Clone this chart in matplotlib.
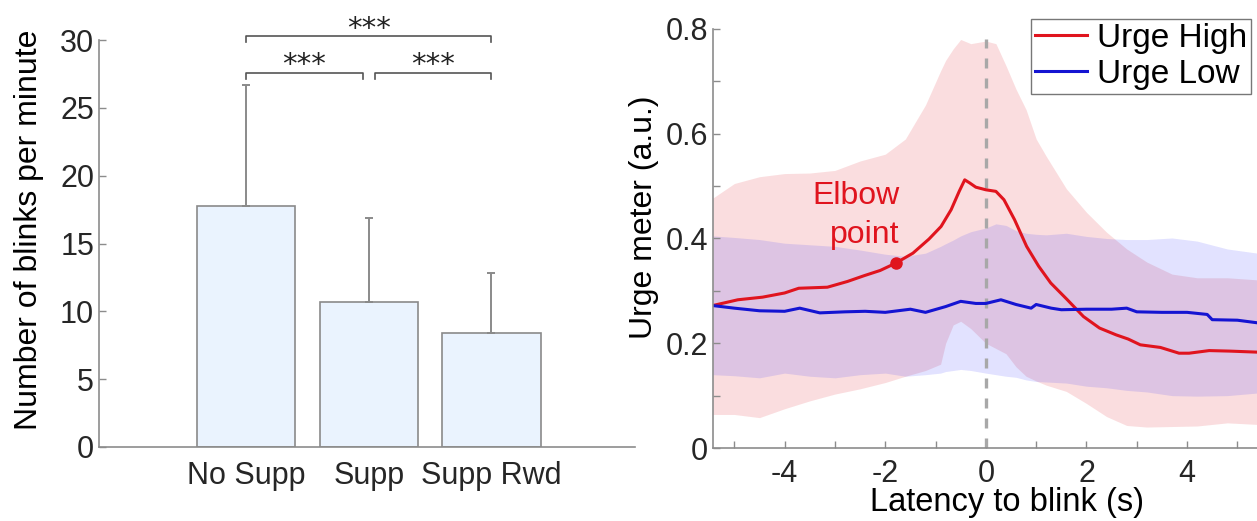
"""
Blink suppression figure: blink rate per condition (left) and
urge-meter time course around blinks (right).
"""

import matplotlib
matplotlib.use("Agg")
import matplotlib.pyplot as plt
from matplotlib.ticker import MultipleLocator, FuncFormatter

plt.rcParams["font.family"] = ["Liberation Sans", "DejaVu Sans"]
plt.rcParams["axes.unicode_minus"] = False

# ---- left panel: blinks per minute ----
conditions = ["No Supp", "Supp", "Supp Rwd"]
blink_mean = [17.8, 10.7, 8.4]
blink_sd = [8.9, 6.2, 4.4]
# (left bar, right bar, bracket height, stars)
comparisons = [(0, 1, 27.6, "***"), (1, 2, 27.6, "***"), (0, 2, 30.3, "***")]

# ---- right panel: urge meter ----
high_t = [-5.43, -4.93, -4.44, -4.0, -3.72, -3.15, -2.75, -2.42, -2.1, -1.79,
          -1.45, -1.13, -0.89, -0.69, -0.53, -0.42, -0.32, -0.2, 0.0, 0.2,
          0.36, 0.57, 0.81, 1.05, 1.29, 1.62, 1.94, 2.26, 2.59, 2.83, 3.07,
          3.47, 3.84, 4.04, 4.44, 4.85, 5.4]
high_mean = [0.272, 0.283, 0.288, 0.296, 0.305, 0.307, 0.318, 0.329, 0.339,
             0.353, 0.372, 0.399, 0.423, 0.455, 0.49, 0.512, 0.506, 0.498,
             0.493, 0.49, 0.474, 0.436, 0.385, 0.347, 0.315, 0.283, 0.251,
             0.229, 0.216, 0.208, 0.197, 0.192, 0.181, 0.181, 0.186, 0.185,
             0.183]

low_t = [-5.43, -5.0, -4.5, -4.0, -3.7, -3.3, -2.8, -2.4, -2.0, -1.5, -1.2,
         -0.8, -0.5, -0.2, 0.0, 0.3, 0.6, 0.9, 1.0, 1.3, 1.5, 2.0, 2.5, 2.8,
         3.0, 3.5, 4.0, 4.4, 4.5, 5.0, 5.4]
low_mean = [0.272, 0.267, 0.262, 0.261, 0.267, 0.258, 0.26, 0.261, 0.259,
            0.265, 0.259, 0.27, 0.28, 0.276, 0.276, 0.283, 0.274, 0.267,
            0.274, 0.267, 0.264, 0.265, 0.265, 0.267, 0.26, 0.259, 0.259,
            0.255, 0.245, 0.244, 0.239]

band_t = [-5.43, -5.0, -4.5, -4.0, -3.5, -3.0, -2.5, -2.0, -1.6, -1.2, -0.9,
          -0.8, -0.65, -0.5, -0.3, 0.0, 0.2, 0.4, 0.6, 0.8, 1.0, 1.2, 1.6,
          2.0, 2.4, 2.8, 3.2, 3.7, 4.2, 4.8, 5.4]
high_upper = [0.477, 0.505, 0.518, 0.524, 0.525, 0.53, 0.548, 0.561, 0.59,
              0.655, 0.72, 0.74, 0.762, 0.78, 0.772, 0.777, 0.772, 0.73,
              0.685, 0.646, 0.59, 0.557, 0.495, 0.45, 0.412, 0.38, 0.355,
              0.332, 0.325, 0.325, 0.321]
high_lower = [0.064, 0.064, 0.058, 0.075, 0.09, 0.103, 0.113, 0.125, 0.137,
              0.148, 0.16, 0.2, 0.235, 0.242, 0.228, 0.2, 0.19, 0.18, 0.155,
              0.137, 0.128, 0.12, 0.108, 0.085, 0.06, 0.043, 0.04, 0.041,
              0.042, 0.048, 0.045]
low_upper = [0.405, 0.402, 0.398, 0.391, 0.388, 0.385, 0.378, 0.37, 0.366,
             0.372, 0.385, 0.39, 0.397, 0.405, 0.413, 0.42, 0.428, 0.425,
             0.415, 0.41, 0.408, 0.407, 0.41, 0.404, 0.4, 0.398, 0.398,
             0.401, 0.395, 0.38, 0.372]
low_lower = [0.14, 0.138, 0.134, 0.143, 0.137, 0.134, 0.14, 0.143, 0.137,
             0.14, 0.143, 0.146, 0.148, 0.15, 0.148, 0.143, 0.14, 0.137,
             0.135, 0.13, 0.127, 0.126, 0.124, 0.118, 0.115, 0.11, 0.107,
             0.1, 0.099, 0.1, 0.105]

elbow_t, elbow_y = -1.79, 0.353

RED = "#e0141e"
BLUE = "#1414d2"
SPINE = "#8c8c8c"
TEXT = "#262626"
FS = 22
LABEL_FS = 23


def style_axis(ax):
    for s in ["top", "right"]:
        ax.spines[s].set_visible(False)
    for s in ["left", "bottom"]:
        ax.spines[s].set_color(SPINE)
        ax.spines[s].set_linewidth(1.2)
    ax.tick_params(which="both", direction="in", color=SPINE, labelcolor=TEXT,
                   labelsize=FS, width=1.0, length=5)


def plot_blinks(ax):
    x = list(range(len(conditions)))
    ax.bar(x, blink_mean, width=0.8, color="#eaf3fe", edgecolor="#8a8a8a",
           linewidth=1.2, zorder=2)
    ax.errorbar(x, blink_mean, yerr=[[0] * len(x), blink_sd], fmt="none",
                ecolor="#8a8a8a", elinewidth=1.4, capsize=3, capthick=1.4,
                zorder=3)
    for i, j, h, label in comparisons:
        xi = x[i] + (0.05 if (j - i) == 1 and i > 0 else 0)
        xj = x[j] - (0.05 if (j - i) == 1 and i == 0 else 0)
        ax.plot([xi, xi, xj, xj], [h - 0.45, h, h, h - 0.45], color="#555555",
                lw=1.2, clip_on=False)
        ax.text((xi + xj) / 2, h - 0.06, label, ha="center", va="baseline",
                fontsize=21, family="DejaVu Sans", color="#222222",
                clip_on=False)
    ax.set_xticks(x)
    ax.set_xticklabels(conditions)
    ax.set_xlim(-1.2, 3.17)
    ax.set_ylim(0, 30)
    ax.set_yticks(range(0, 31, 5))
    ax.set_ylabel("Number of blinks per minute", fontsize=LABEL_FS,
                  color="black")
    ax.yaxis.set_label_coords(-0.103, 0.533)
    style_axis(ax)
    ax.tick_params(axis="x", length=0, pad=10)


def plot_urge(ax):
    ax.fill_between(band_t, high_lower, high_upper, color=RED, alpha=0.14,
                    linewidth=0)
    ax.fill_between(band_t, low_lower, low_upper, color="#2020ff", alpha=0.13,
                    linewidth=0)
    ax.plot([0, 0], [0, 0.78], color="#a8a8a8", lw=2.4,
            linestyle=(0, (3.0, 3.0)))
    ax.plot(high_t, high_mean, color=RED, lw=2.2, label="Urge High")
    ax.plot(low_t, low_mean, color=BLUE, lw=2.2, label="Urge Low")
    ax.plot([elbow_t], [elbow_y], "o", color=RED, markersize=8)
    # va="baseline" anchors the last line ("point") for multi-line text
    ax.text(-1.71, 0.391, "Elbow\npoint", color=RED, fontsize=23, ha="right",
            va="baseline", multialignment="right", linespacing=1.38)
    ax.set_xlim(-5.43, 5.39)
    ax.set_ylim(0, 0.8)
    ax.xaxis.set_major_locator(MultipleLocator(2))
    ax.xaxis.set_minor_locator(MultipleLocator(1))
    ax.yaxis.set_major_locator(MultipleLocator(0.2))
    ax.yaxis.set_minor_locator(MultipleLocator(0.1))
    ax.yaxis.set_major_formatter(
        FuncFormatter(lambda v, p: "0" if abs(v) < 1e-9 else f"{v:.1f}"))
    ax.set_xlabel("Latency to blink (s)", fontsize=23.5, color="black")
    ax.xaxis.set_label_coords(0.54, -0.092)
    ax.set_ylabel("Urge meter (a.u.)", fontsize=LABEL_FS, color="black")
    ax.yaxis.set_label_coords(-0.099, 0.551)
    style_axis(ax)
    ax.tick_params(axis="x", pad=8)


def main():
    fig = plt.figure(figsize=(12.57, 5.21), dpi=100)
    ax1 = fig.add_axes([99 / 1257, 1 - 447 / 521, (635 - 99) / 1257, 407 / 521])
    ax2 = fig.add_axes([712.7 / 1257, 1 - 448 / 521, (1257 - 712.7) / 1257, 419 / 521])
    plot_blinks(ax1)
    plot_urge(ax2)
    leg = fig.legend(*ax2.get_legend_handles_labels(), loc="upper left",
                     bbox_to_anchor=(1031 / 1257, 1 - 19 / 521),
                     bbox_transform=fig.transFigure, borderaxespad=0,
                     fontsize=24, frameon=True, fancybox=False,
                     handlelength=1.55, handletextpad=0.3, borderpad=0.12,
                     labelspacing=0.14)
    leg.get_frame().set_edgecolor("#555555")
    leg.get_frame().set_linewidth(1.0)
    fig.savefig("out.png", dpi=100)
    plt.close(fig)


if __name__ == "__main__":
    main()
